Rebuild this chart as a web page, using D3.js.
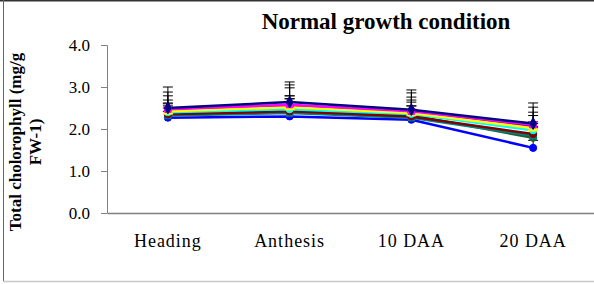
<!DOCTYPE html>
<html>
<head>
<meta charset="utf-8">
<script src="https://cdn.jsdelivr.net/npm/d3@7"></script>
<style>
    body { margin: 0; background: #fff; }
    svg { display: block; font-family: "Liberation Serif", "Times New Roman", serif; }
    .axis path, .axis line { stroke: #808080; }
    .axis text { font-family: "Liberation Serif", "Times New Roman", serif; fill: #000; }
</style>
</head>
<body>
<div id="chart"></div>
<script>

// categories on the x axis
let stages = ["Heading", "Anthesis", "10 DAA", "20 DAA"];
let yTicks = [0, 1, 2, 3, 4];

// one entry per genotype (line), values per stage
let seriesNames = ["G1", "G2", "G3", "G4", "G5", "G6", "G7", "G8", "G9"];
let seriesColors = ["#000080", "#ff00ff", "#ffff00", "#00ffff", "#800080", "#800000", "#008080", "#0000ff", "#1f5f2f"];
let seriesMarkers = ["diamond", "square", "triangle", "circle", "circle", "circle", "square", "circle", "circle"];

let values = [
    [2.50, 2.64, 2.46, 2.13],
    [2.47, 2.58, 2.42, 2.10],
    [2.42, 2.52, 2.38, 2.02],
    [2.40, 2.47, 2.36, 1.97],
    [2.44, 2.55, 2.40, 2.06],
    [2.35, 2.42, 2.30, 1.88],
    [2.32, 2.38, 2.27, 1.84],
    [2.27, 2.30, 2.22, 1.55],
    [2.38, 2.44, 2.33, 1.79]
];

// standard deviations (plus direction only)
let errors = [
    [0.50, 0.48, 0.47, 0.49],
    [0.41, 0.47, 0.44, 0.42],
    [0.27, 0.27, 0.31, 0.30],
    [0.22, 0.32, 0.28, 0.20],
    [0.35, 0.43, 0.36, 0.34],
    [0.20, 0.30, 0.25, 0.25],
    [0.18, 0.25, 0.20, 0.22],
    [0.15, 0.20, 0.15, 0.18],
    [0.22, 0.28, 0.22, 0.24]
];

let W = 594, H = 284;
let margin = { top: 45, right: 0, bottom: 71, left: 107 };
let width = W - margin.left - margin.right;
let height = H - margin.top - margin.bottom;

let svg = d3.select("#chart").append("svg")
    .attr("width", W)
    .attr("height", H);

// outer frame
svg.append("line").attr("x1", 0).attr("x2", W).attr("y1", 0.5).attr("y2", 0.5)
    .attr("stroke", "#333").attr("stroke-width", 2);
svg.append("line").attr("x1", 3.5).attr("x2", 3.5).attr("y1", 0).attr("y2", 282)
    .attr("stroke", "#666");
svg.append("line").attr("x1", 3).attr("x2", W).attr("y1", 281.5).attr("y2", 281.5)
    .attr("stroke", "#c8c8c8").attr("stroke-width", 1.5);

// title
svg.append("text")
    .attr("x", 386)
    .attr("y", 29)
    .style("text-anchor", "middle")
    .style("font-weight", "bold")
    .style("font-size", "23px")
    .text("Normal growth condition");

let g = svg.append("g")
    .attr("transform", "translate(" + margin.left + "," + margin.top + ")");

// scales
let x = d3.scaleBand()
    .domain(stages)
    .range([0, width]);

let y = d3.scaleLinear()
    .domain([0, 4])
    .range([height, 0]);

let yAxis = d3.axisLeft(y)
    .tickValues(yTicks)
    .tickSize(6)
    .tickPadding(11)
    .tickFormat(d3.format(".1f"));

let xAxis = d3.axisBottom(x)
    .tickSize(0)
    .tickPadding(21);

g.append("g")
    .attr("class", "y-axis axis")
    .call(yAxis)
    .call(a => a.select(".domain").attr("d", "M-6,0.5H0.5V" + (height + 0.5)))
    .selectAll("text")
    .style("font-size", "17px");

g.append("g")
    .attr("class", "x-axis axis")
    .attr("transform", "translate(0," + height + ")")
    .call(xAxis)
    .call(a => a.select(".domain").attr("stroke-width", 1.5))
    .selectAll("text")
    .style("font-size", "18px")
    .style("letter-spacing", "1px");

// y axis title (two lines, rotated)
let yTitle = svg.append("text")
    .attr("transform", "translate(21,142) rotate(-90)")
    .style("text-anchor", "middle")
    .style("font-weight", "bold")
    .style("font-size", "17px");
yTitle.append("tspan").attr("x", 0).attr("y", 0).text("Total cholorophyll (mg/g");
yTitle.append("tspan").attr("x", 0).attr("y", 20).text("FW-1)");

let cx = d => x(d) + x.bandwidth() / 2;

let data = seriesNames.map((name, i) => ({
    name: name,
    color: seriesColors[i],
    marker: seriesMarkers[i],
    points: stages.map((s, j) => ({ stage: s, value: values[i][j], err: errors[i][j] }))
}));

let line = d3.line()
    .x(d => cx(d.stage))
    .y(d => y(d.value));

// error bars
let eb = g.append("g").attr("class", "error-bars");
data.forEach(function (s) {
    s.points.forEach(function (p) {
        let px = cx(p.stage);
        eb.append("line")
            .attr("x1", px).attr("x2", px)
            .attr("y1", y(p.value)).attr("y2", y(p.value + p.err))
            .attr("stroke", "#000").attr("stroke-width", 1);
        eb.append("line")
            .attr("x1", px - 5).attr("x2", px + 5)
            .attr("y1", y(p.value + p.err)).attr("y2", y(p.value + p.err))
            .attr("stroke", "#000").attr("stroke-width", 1);
    });
});

// lines, drawn bottom series first so navy ends on top
let order = data.slice().reverse();

g.selectAll(".series-line")
    .data(order)
    .enter().append("path")
    .attr("class", "series-line")
    .attr("d", d => line(d.points))
    .attr("fill", "none")
    .attr("stroke", d => d.color)
    .attr("stroke-width", 2.5);

let symbolType = {
    diamond: d3.symbolDiamond,
    square: d3.symbolSquare,
    triangle: d3.symbolTriangle,
    circle: d3.symbolCircle
};

order.forEach(function (s) {
    g.selectAll(null)
        .data(s.points)
        .enter().append("path")
        .attr("d", d3.symbol().type(symbolType[s.marker]).size(40))
        .attr("transform", d => "translate(" + cx(d.stage) + "," + y(d.value) + ")")
        .attr("fill", s.color)
        .attr("stroke", s.color);
});

</script>
</body>
</html>
